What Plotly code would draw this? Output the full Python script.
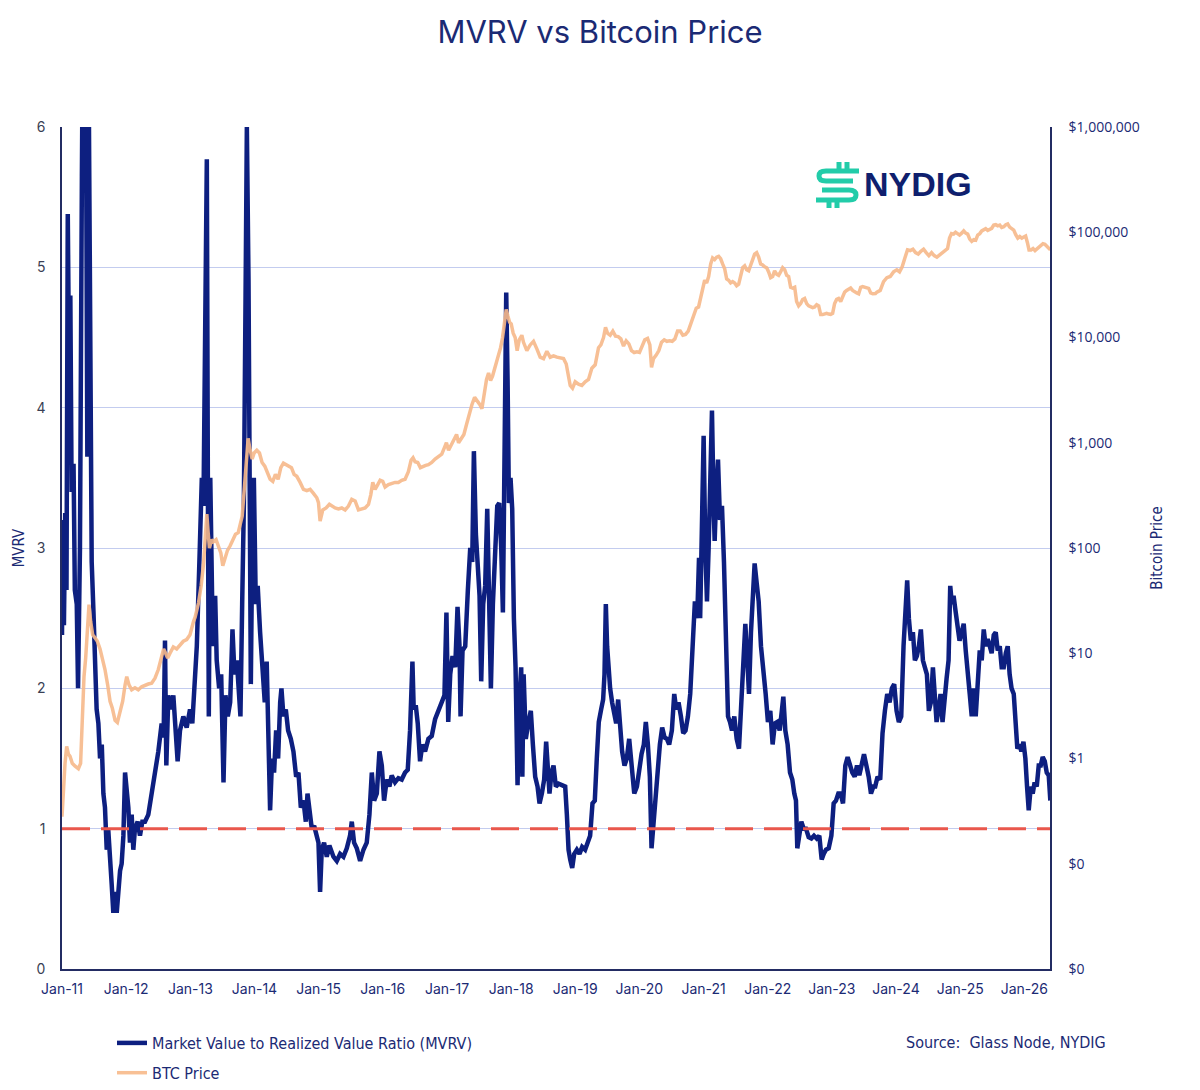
import plotly.graph_objects as go
from datetime import datetime, timedelta

# ---------------- data ----------------
mvrv_year = [
    2011.00, 2011.01, 2011.03, 2011.05, 2011.07, 2011.09, 2011.11, 2011.13, 2011.15, 2011.18,
    2011.20, 2011.23, 2011.25, 2011.28, 2011.31, 2011.33, 2011.35, 2011.37, 2011.395, 2011.415,
    2011.44, 2011.463, 2011.49, 2011.515, 2011.54, 2011.567, 2011.593, 2011.62, 2011.645, 2011.67,
    2011.697, 2011.72, 2011.75, 2011.775, 2011.80, 2011.827, 2011.853, 2011.88, 2011.905, 2011.93,
    2011.957, 2011.983,
    2012.01, 2012.035, 2012.06, 2012.087, 2012.112, 2012.138, 2012.18, 2012.216, 2012.253, 2012.294,
    2012.346, 2012.398, 2012.45, 2012.502, 2012.554, 2012.585, 2012.606, 2012.627, 2012.658, 2012.694,
    2012.736, 2012.772, 2012.803, 2012.84, 2012.892, 2012.944, 2012.996,
    2013.03, 2013.06, 2013.10, 2013.14, 2013.178, 2013.204, 2013.23, 2013.256, 2013.272, 2013.287,
    2013.31, 2013.33, 2013.35, 2013.386, 2013.41, 2013.448, 2013.48, 2013.516, 2013.547, 2013.583,
    2013.62, 2013.656, 2013.687, 2013.724, 2013.76, 2013.78, 2013.807, 2013.833, 2013.86, 2013.88,
    2013.906, 2013.926, 2013.942, 2013.963, 2013.989,
    2014.02, 2014.05, 2014.087, 2014.124, 2014.16, 2014.19, 2014.222, 2014.243, 2014.274, 2014.305,
    2014.337, 2014.368, 2014.40, 2014.42, 2014.451, 2014.488, 2014.524, 2014.566, 2014.607, 2014.649,
    2014.685, 2014.722, 2014.763, 2014.80, 2014.826, 2014.857, 2014.893, 2014.93, 2014.971, 2014.997,
    2015.023, 2015.049, 2015.085, 2015.127, 2015.168, 2015.231, 2015.283, 2015.335, 2015.387, 2015.439,
    2015.49, 2015.517, 2015.553, 2015.595, 2015.647, 2015.699, 2015.75, 2015.792, 2015.829, 2015.865,
    2015.907, 2015.948, 2015.985,
    2016.021, 2016.063, 2016.104, 2016.14, 2016.192, 2016.244, 2016.296, 2016.348, 2016.39, 2016.426,
    2016.463, 2016.483, 2016.515, 2016.546, 2016.582, 2016.618, 2016.66, 2016.712, 2016.764, 2016.816,
    2016.868, 2016.92, 2016.962, 2016.993,
    2017.019, 2017.05, 2017.086, 2017.128, 2017.164, 2017.195, 2017.211, 2017.242, 2017.284, 2017.325,
    2017.362, 2017.393, 2017.419, 2017.45, 2017.481, 2017.507, 2017.533, 2017.564, 2017.595, 2017.627,
    2017.653, 2017.684, 2017.715, 2017.746, 2017.783, 2017.814, 2017.845, 2017.871, 2017.897, 2017.923,
    2017.944, 2017.965, 2017.99,
    2018.017, 2018.043, 2018.069, 2018.10, 2018.126, 2018.157, 2018.175, 2018.195, 2018.229, 2018.266,
    2018.307, 2018.339, 2018.375, 2018.412, 2018.443, 2018.479, 2018.515, 2018.546, 2018.572, 2018.598,
    2018.63, 2018.661, 2018.697, 2018.739, 2018.791, 2018.843, 2018.869, 2018.895, 2018.921, 2018.952,
    2018.983,
    2019.025, 2019.066, 2019.108, 2019.154, 2019.196, 2019.232, 2019.269, 2019.305, 2019.336, 2019.367,
    2019.404, 2019.435, 2019.456, 2019.477, 2019.497, 2019.518, 2019.544, 2019.575, 2019.607, 2019.638,
    2019.669, 2019.70, 2019.731, 2019.768, 2019.804, 2019.841, 2019.878, 2019.92, 2019.961, 2019.997,
    2020.034, 2020.07, 2020.101, 2020.133, 2020.164, 2020.19, 2020.216, 2020.247, 2020.283, 2020.32,
    2020.356, 2020.393, 2020.429, 2020.465, 2020.507, 2020.544, 2020.575, 2020.611, 2020.648, 2020.684,
    2020.72, 2020.757, 2020.793, 2020.83, 2020.866, 2020.902, 2020.93, 2020.948, 2020.974,
    2021.0, 2021.026, 2021.052, 2021.078, 2021.099, 2021.13, 2021.156, 2021.172, 2021.198, 2021.224,
    2021.255, 2021.286, 2021.317, 2021.348, 2021.38, 2021.411, 2021.442, 2021.478, 2021.515, 2021.551,
    2021.582, 2021.613, 2021.65, 2021.681, 2021.707, 2021.738, 2021.764, 2021.795, 2021.827, 2021.858,
    2021.894, 2021.931, 2021.967,
    2022.003, 2022.04, 2022.076, 2022.112, 2022.149, 2022.186, 2022.222, 2022.243, 2022.274, 2022.31,
    2022.347, 2022.383, 2022.414, 2022.44, 2022.461, 2022.492, 2022.524, 2022.56, 2022.596, 2022.638,
    2022.68, 2022.721, 2022.763, 2022.804, 2022.841, 2022.872, 2022.908, 2022.95, 2022.992,
    2023.028, 2023.064, 2023.101, 2023.137, 2023.174, 2023.21, 2023.246, 2023.283, 2023.319, 2023.356,
    2023.392, 2023.428, 2023.465, 2023.501, 2023.538, 2023.574, 2023.61, 2023.647, 2023.676, 2023.712,
    2023.754, 2023.79, 2023.827, 2023.863, 2023.90, 2023.936, 2023.972,
    2024.009, 2024.045, 2024.082, 2024.118, 2024.149, 2024.175, 2024.201, 2024.232, 2024.264, 2024.295,
    2024.326, 2024.357, 2024.388, 2024.42, 2024.451, 2024.482, 2024.513, 2024.544, 2024.576, 2024.607,
    2024.633, 2024.664, 2024.695, 2024.726, 2024.758, 2024.789, 2024.82, 2024.846, 2024.872, 2024.898,
    2024.929, 2024.96, 2024.991,
    2025.022, 2025.054, 2025.085, 2025.116, 2025.148, 2025.179, 2025.21, 2025.241, 2025.272, 2025.304,
    2025.335, 2025.366, 2025.397, 2025.428, 2025.46, 2025.49, 2025.522, 2025.553, 2025.584, 2025.616,
    2025.646, 2025.678, 2025.71, 2025.74, 2025.77, 2025.80, 2025.834, 2025.865, 2025.89, 2025.922,
    2025.953, 2025.985,
    2026.016, 2026.042, 2026.068, 2026.10, 2026.13, 2026.16, 2026.193, 2026.224, 2026.255, 2026.286,
    2026.318, 2026.349, 2026.38, 2026.405,
]
mvrv_value = [
    2.38, 3.2, 2.45, 3.25, 2.7, 5.38, 4.3, 4.8, 3.4, 3.6,
    2.7, 2.6, 2.0, 3.0, 5.65, 7.0, 6.5, 6.6, 3.65, 6.4,
    3.9, 2.9, 2.55, 2.1, 1.85, 1.75, 1.5, 1.6, 1.25, 1.15,
    0.85, 1.0, 0.7, 0.6, 0.4, 0.55, 0.4, 0.6, 0.7, 0.75,
    0.95, 1.4,
    1.25, 1.15, 0.9, 1.1, 0.85, 1.0, 1.05, 0.95, 1.05, 1.05,
    1.1, 1.25, 1.35, 1.55, 1.75, 1.65, 2.34, 1.45, 1.95, 1.85,
    1.95, 1.75, 1.48, 1.7, 1.8, 1.72, 1.85,
    1.75, 2.0, 2.3, 2.9, 3.5, 3.3, 4.5, 5.77, 3.5, 1.8,
    3.5, 2.6, 2.3, 2.66, 2.2, 2.0, 2.1, 1.33, 1.95, 1.8,
    1.9, 2.42, 2.1, 2.2, 1.9, 1.8, 2.6, 3.3, 4.8, 6.0,
    4.9, 3.5, 2.03, 3.0, 3.5,
    2.6, 2.73, 2.4, 2.15, 1.9, 2.19, 1.6, 1.13, 1.5, 1.4,
    1.7, 1.5, 1.9, 2.0, 1.8, 1.85, 1.7, 1.64, 1.55, 1.37,
    1.4, 1.15, 1.2, 1.05, 1.25, 1.1, 1.0, 1.02, 0.95, 0.9,
    0.55, 0.85, 0.9, 0.8, 0.88, 0.8, 0.77, 0.82, 0.8, 0.86,
    0.95, 1.05, 0.9, 0.86, 0.77, 0.85, 0.9, 1.1, 1.4, 1.2,
    1.25, 1.55, 1.45,
    1.2, 1.35, 1.3, 1.38, 1.33, 1.36, 1.35, 1.4, 1.42, 1.7,
    2.19, 1.85, 1.88, 1.75, 1.48, 1.6, 1.55, 1.64, 1.66, 1.78,
    1.84, 1.9, 1.95, 2.54,
    1.76, 2.1, 2.23, 2.15, 2.58, 2.3, 1.8, 2.27, 2.3, 2.7,
    3.0, 2.9, 3.69, 3.1, 2.85, 2.66, 2.05, 2.6, 2.73, 3.28,
    2.7, 2.0, 2.6, 2.93, 3.3, 3.32, 3.0, 2.54, 3.6, 4.82,
    4.2, 3.32, 3.5,
    3.28, 2.5, 2.15, 1.31, 1.9, 2.15, 1.37, 2.1, 1.64, 1.75,
    1.84, 1.6, 1.37, 1.3, 1.18, 1.25, 1.35, 1.62, 1.4, 1.25,
    1.4, 1.45, 1.3, 1.32, 1.31, 1.3, 1.1, 0.85, 0.78, 0.72,
    0.82,
    0.85, 0.82, 0.87, 0.85, 0.92, 0.95, 1.18, 1.2, 1.5, 1.76,
    1.85, 1.92, 2.1, 2.6, 2.3, 2.15, 2.0, 1.9, 1.84, 1.75,
    1.92, 1.72, 1.55, 1.45, 1.5, 1.64, 1.45, 1.25, 1.3, 1.45,
    1.53, 1.6, 1.76, 1.6, 1.37, 0.86, 1.0, 1.18, 1.45, 1.6,
    1.72, 1.65, 1.64, 1.6, 1.7, 1.96, 1.85, 1.9, 1.8, 1.68,
    1.7, 1.8, 1.96, 2.3, 2.62, 2.5, 2.93, 2.5, 3.3,
    3.8, 3.0, 2.62, 3.0, 3.55, 3.98, 3.3, 3.05, 3.4, 3.63,
    3.2, 3.3, 2.9, 2.3, 1.8, 1.76, 1.7, 1.8, 1.64, 1.57,
    1.9, 2.23, 2.46, 2.2, 1.96, 2.4, 2.62, 2.89, 2.75, 2.62,
    2.3, 2.15, 1.96,
    1.76, 1.84, 1.6, 1.75, 1.76, 1.7, 1.85, 1.94, 1.7, 1.6,
    1.4, 1.35, 1.25, 1.2, 0.86, 0.95, 1.05, 1.0, 1.0, 0.94,
    0.93, 0.95, 0.93, 0.95, 0.78, 0.82, 0.85, 0.86, 0.95,
    1.18, 1.2, 1.25, 1.25, 1.18, 1.45, 1.51, 1.45, 1.4, 1.37,
    1.45, 1.38, 1.45, 1.53, 1.45, 1.37, 1.25, 1.3, 1.3, 1.37,
    1.35, 1.68, 1.84, 1.96, 1.9, 2.0, 2.03,
    1.84, 1.76, 1.8, 2.3, 2.5, 2.77, 2.5, 2.34, 2.4, 2.2,
    2.23, 2.3, 2.42, 2.2, 2.15, 2.1, 1.84, 1.9, 2.15, 1.85,
    1.76, 1.85, 1.96, 1.76, 1.95, 2.07, 2.2, 2.73, 2.6, 2.66,
    2.55, 2.45, 2.34,
    2.4, 2.46, 2.27, 2.15, 1.96, 1.8, 2.0, 1.8, 2.0, 2.27,
    2.2, 2.42, 2.3, 2.35, 2.3, 2.25, 2.38, 2.4, 2.27, 2.3,
    2.15, 2.15, 2.25, 2.3, 2.1, 2.0, 1.96, 1.7, 1.57, 1.6,
    1.55, 1.62,
    1.5, 1.3, 1.13, 1.3, 1.25, 1.33, 1.3, 1.45, 1.45, 1.51,
    1.48, 1.4, 1.38, 1.2,
]

price_year = [
    2011.0, 2011.02, 2011.047, 2011.073, 2011.10, 2011.125, 2011.16, 2011.20, 2011.255, 2011.29,
    2011.317, 2011.343, 2011.369, 2011.395, 2011.421, 2011.447, 2011.478, 2011.515, 2011.551, 2011.593,
    2011.63, 2011.67, 2011.712, 2011.749, 2011.785, 2011.827, 2011.863, 2011.905, 2011.946, 2011.983,
    2012.01, 2012.045, 2012.087, 2012.138, 2012.19, 2012.242, 2012.294, 2012.346, 2012.398, 2012.45,
    2012.502, 2012.544, 2012.585, 2012.616, 2012.648, 2012.684, 2012.736, 2012.788, 2012.84, 2012.892,
    2012.944, 2012.996,
    2013.048, 2013.074, 2013.126, 2013.168, 2013.204, 2013.235, 2013.256, 2013.277, 2013.297, 2013.33,
    2013.36, 2013.40, 2013.438, 2013.474, 2013.505, 2013.537, 2013.578, 2013.62, 2013.661, 2013.703,
    2013.745, 2013.776, 2013.807, 2013.838, 2013.869, 2013.90, 2013.932, 2013.963, 2013.994,
    2014.036, 2014.077, 2014.118, 2014.16, 2014.202, 2014.243, 2014.285, 2014.326, 2014.368, 2014.41,
    2014.451, 2014.493, 2014.534, 2014.576, 2014.617, 2014.659, 2014.711, 2014.763, 2014.815, 2014.867,
    2014.919, 2014.971, 2014.997,
    2015.023, 2015.065, 2015.117, 2015.168, 2015.205, 2015.257, 2015.309, 2015.361, 2015.413, 2015.465,
    2015.517, 2015.569, 2015.621, 2015.673, 2015.725, 2015.777, 2015.813, 2015.844, 2015.88, 2015.922,
    2015.959,
    2016.0, 2016.037, 2016.089, 2016.14, 2016.192, 2016.244, 2016.296, 2016.348, 2016.40, 2016.442,
    2016.473, 2016.504, 2016.546, 2016.587, 2016.63, 2016.67, 2016.712, 2016.764, 2016.816, 2016.868,
    2016.92, 2016.962, 2016.993,
    2017.024, 2017.065, 2017.107, 2017.149, 2017.18, 2017.221, 2017.263, 2017.305, 2017.346, 2017.388,
    2017.43, 2017.471, 2017.513, 2017.544, 2017.58, 2017.616, 2017.648, 2017.679, 2017.71, 2017.741,
    2017.773, 2017.804, 2017.835, 2017.866, 2017.897, 2017.923, 2017.949, 2017.975,
    2018.001, 2018.032, 2018.063, 2018.094, 2018.126, 2018.167, 2018.193, 2018.245, 2018.297, 2018.349,
    2018.401, 2018.453, 2018.505, 2018.557, 2018.609, 2018.661, 2018.713, 2018.765, 2018.817, 2018.859,
    2018.89, 2018.921, 2018.957, 2018.999,
    2019.051, 2019.103, 2019.155, 2019.207, 2019.259, 2019.311, 2019.363, 2019.40, 2019.441, 2019.472,
    2019.503, 2019.545, 2019.586, 2019.628, 2019.67, 2019.711, 2019.753, 2019.794, 2019.836, 2019.877,
    2019.919, 2019.961,
    2020.002, 2020.044, 2020.085, 2020.128, 2020.164, 2020.19, 2020.221, 2020.263, 2020.304, 2020.346,
    2020.388, 2020.429, 2020.471, 2020.512, 2020.554, 2020.596, 2020.637, 2020.678, 2020.72, 2020.762,
    2020.804, 2020.845, 2020.887, 2020.923, 2020.948, 2020.984,
    2021.016, 2021.047, 2021.078, 2021.11, 2021.14, 2021.172, 2021.203, 2021.234, 2021.265, 2021.296,
    2021.328, 2021.359, 2021.39, 2021.421, 2021.452, 2021.484, 2021.515, 2021.546, 2021.577, 2021.608,
    2021.64, 2021.67, 2021.702, 2021.733, 2021.764, 2021.795, 2021.827, 2021.858, 2021.889, 2021.92,
    2021.951, 2021.983,
    2022.014, 2022.045, 2022.076, 2022.107, 2022.139, 2022.17, 2022.20, 2022.232, 2022.264, 2022.295,
    2022.326, 2022.357, 2022.388, 2022.42, 2022.45, 2022.482, 2022.513, 2022.544, 2022.575, 2022.607,
    2022.638, 2022.67, 2022.70, 2022.731, 2022.763, 2022.794, 2022.825, 2022.855, 2022.887, 2022.918,
    2022.95, 2022.98,
    2023.012, 2023.043, 2023.075, 2023.106, 2023.138, 2023.168, 2023.20, 2023.23, 2023.262, 2023.293,
    2023.324, 2023.356, 2023.388, 2023.418, 2023.45, 2023.48, 2023.51, 2023.543, 2023.574, 2023.605,
    2023.637, 2023.68, 2023.702, 2023.754, 2023.806, 2023.858, 2023.91, 2023.962,
    2024.014, 2024.056, 2024.097, 2024.139, 2024.18, 2024.222, 2024.264, 2024.305, 2024.347, 2024.388,
    2024.43, 2024.471, 2024.513, 2024.555, 2024.596, 2024.638, 2024.68, 2024.721, 2024.763, 2024.804,
    2024.835, 2024.866, 2024.898, 2024.929, 2024.96, 2024.991,
    2025.022, 2025.054, 2025.085, 2025.116, 2025.148, 2025.179, 2025.21, 2025.241, 2025.272, 2025.304,
    2025.335, 2025.366, 2025.397, 2025.428, 2025.46, 2025.49, 2025.522, 2025.553, 2025.584, 2025.616,
    2025.646, 2025.678, 2025.71, 2025.74, 2025.77, 2025.80, 2025.834, 2025.865, 2025.897, 2025.928,
    2025.96, 2025.99,
    2026.02, 2026.047, 2026.073, 2026.104, 2026.135, 2026.166, 2026.20, 2026.23, 2026.26, 2026.29,
    2026.32, 2026.35, 2026.38, 2026.405,
]
price_value = [
    0.28, 0.5, 0.9, 1.3, 1.1, 1.05, 0.9, 0.85, 0.8, 0.9,
    2.5, 6, 9, 18, 29, 20, 15, 14, 13, 11,
    9, 7, 5, 3.5, 3, 2.3, 2.2, 2.9, 3.5, 5,
    6, 5, 4.5, 4.7, 4.5, 4.8, 5, 5.1, 5.2, 5.8,
    7, 9, 11, 10, 9, 10, 11.5, 11, 12, 13,
    13.5, 15,
    20, 22, 30, 44, 70, 130, 210, 140, 100, 120,
    115, 120, 105, 90, 68, 80, 95, 105, 120, 135,
    140, 170, 200, 350, 700, 1100, 850, 700, 800,
    850, 800, 650, 600, 520, 450, 430, 500, 450, 580,
    640, 620, 600, 580, 500, 480, 420, 360, 350, 360,
    330, 300, 270,
    180, 230, 240, 260, 250, 240, 235, 240, 230, 250,
    290, 280, 230, 235, 240, 260, 320, 420, 360, 400,
    440,
    430, 380, 400, 410, 420, 420, 440, 450, 530, 680,
    720, 660, 650, 580, 600, 610, 620, 650, 700, 740,
    780, 900, 1000,
    850, 950, 1050, 1200, 1000, 1100, 1200, 1500, 1900, 2300,
    2700, 2500, 2300, 2100, 2800, 4000, 4600, 3900, 4300, 5000,
    6000, 7000, 8000, 10000, 14000, 18500, 16000, 14000,
    13500, 11000, 10000, 7500, 9500, 10500, 9000, 7500, 8500, 9200,
    7800, 6500, 6300, 7400, 6500, 6700, 6500, 6400, 6300, 5600,
    4200, 3500, 3300, 3800,
    3600, 3500, 3800, 4000, 5100, 5500, 8000, 8500, 10000, 12500,
    11000, 10500, 11500, 10300, 10200, 9700, 8300, 9300, 8700, 7500,
    7200, 7300,
    7200, 8500, 9500, 9800, 8500, 5200, 6300, 6800, 7500, 9000,
    9500, 9200, 9300, 9200, 9700, 11500, 11500, 10500, 10700, 11500,
    13500, 16500, 19000, 19500, 23000, 29000,
    35000, 33000, 38000, 50000, 57000, 55000, 58000, 59000, 56000, 50000,
    45000, 36000, 35000, 33000, 34000, 33000, 31000, 32000, 40000, 46000,
    48000, 44000, 43000, 48000, 55000, 62000, 64000, 58000, 50000, 49000,
    47000, 46000,
    42000, 37000, 38000, 43000, 40000, 39000, 42000, 46000, 44000, 39000,
    38000, 30000, 29500, 30000, 22000, 20000, 21000, 23000, 23500, 21000,
    20000, 19500, 19200, 19500, 20500, 20000, 16500, 16500, 16800, 17000,
    16700, 16600,
    17000, 21000, 23000, 23500, 22000, 24000, 27000, 28000, 28500, 29500,
    28000, 27000, 26500, 26000, 30000, 30500, 30000, 29500, 29300, 26500,
    26000, 26200, 27000, 28000, 34000, 37000, 38000, 42000,
    44000, 42000, 47000, 57000, 68000, 67000, 69000, 64000, 62000, 66000,
    69000, 64000, 60000, 64000, 60000, 58000, 61000, 63000, 67000, 70000,
    88000, 97000, 96000, 100000, 97000, 94000,
    98000, 103000, 98000, 96000, 86000, 82000, 85000, 84000, 94000, 97000,
    103000, 105000, 108000, 104000, 107000, 109000, 117000, 118000, 115000, 117000,
    111000, 113000, 118000, 120000, 112000, 108000, 105000, 95000, 88000, 91000,
    88000, 90000,
    92000, 80000, 68000, 68000, 70000, 67000, 70000, 72000, 76000, 78000,
    77000, 74000, 70000, 68000,
]

mvrv_ticks = [0, 1, 2, 3, 4, 5, 6]
price_ticks = [0.01, 0.1, 1, 10, 100, 1000, 10000, 100000, 1000000]
price_tick_labels = ["$0", "$0", "$1", "$10", "$100", "$1,000", "$10,000",
                     "$100,000", "$1,000,000"]
year_ticks = list(range(2011, 2027))
mvrv_threshold = 1

assert len(mvrv_year) == len(mvrv_value), (len(mvrv_year), len(mvrv_value))
assert len(price_year) == len(price_value), (len(price_year), len(price_value))


def to_date(t):
    y = int(t)
    return datetime(y, 1, 1) + timedelta(days=(t - y) * 365.25)


mvrv_dates = [to_date(t) for t in mvrv_year]
price_dates = [to_date(t) for t in price_year]
tick_dates = [datetime(y, 1, 1) for y in year_ticks]

# ---------------- styling ----------------
NAVY = "#0d1f80"
ORANGE = "#f7b98a"
TEXT_NAVY = "#1b2a74"
GRID = "#c3ccef"
AXIS = "#232c63"
RED = "#e9574c"
TEAL = "#22cca9"
NARROW = "Liberation Sans Narrow, Arial Narrow, DejaVu Sans Condensed, sans-serif"

W, H = 1200, 1090
L, R, T, B = 62, 150, 127, 121
PW, PH = W - L - R, H - T - B

fig = go.Figure()
fig.add_trace(go.Scatter(
    x=mvrv_dates, y=mvrv_value, mode="lines",
    name="Market Value to Realized Value Ratio (MVRV)",
    line=dict(color=NAVY, width=4.5), legendgroup="a", yaxis="y",
))
fig.add_trace(go.Scatter(
    x=price_dates, y=price_value, mode="lines", name="BTC Price",
    line=dict(color=ORANGE, width=3.5), opacity=0.9, legendgroup="b", yaxis="y2",
))

fig.update_layout(
    width=W, height=H,
    margin=dict(l=L, r=R, t=T, b=B, autoexpand=False),
    paper_bgcolor="white", plot_bgcolor="white",
    title=dict(text="MVRV vs Bitcoin Price", x=0.5, xanchor="center",
               y=1 - 32 / H, yanchor="middle",
               font=dict(family="Inter, Lato, sans-serif", size=31, color=TEXT_NAVY)),
    xaxis=dict(
        type="date", range=[datetime(2011, 1, 1), datetime(2026, 5, 27)],
        tickvals=tick_dates, tickformat="%b-%y",
        tickfont=dict(family="Inter, Lato, sans-serif", size=14, color=TEXT_NAVY),
        showgrid=False, zeroline=False, showline=True, linecolor=AXIS, linewidth=1.5,
        ticks="", ticklabelstandoff=6,
    ),
    yaxis=dict(
        range=[0, 6], tickvals=mvrv_ticks,
        tickfont=dict(family="Inter, Lato, sans-serif", size=14, color="#3a3f55"),
        showgrid=True, gridcolor=GRID, gridwidth=1, zeroline=False,
        showline=True, linecolor=AXIS, linewidth=1.5, ticks="", ticklabelstandoff=12,
        title=dict(text="MVRV", standoff=8,
                   font=dict(family=NARROW, size=15, color=TEXT_NAVY)),
    ),
    yaxis2=dict(
        type="log", range=[-2, 6], overlaying="y", side="right",
        tickvals=price_ticks, ticktext=price_tick_labels,
        tickfont=dict(family="Open Sans, sans-serif", size=14, color=TEXT_NAVY),
        showgrid=False, zeroline=False, showline=True, linecolor=AXIS, linewidth=1.5,
        ticks="", ticklabelstandoff=14,
        title=dict(text="Bitcoin Price", standoff=13,
                   font=dict(family=NARROW, size=15, color=TEXT_NAVY)),
    ),
    legend=dict(
        x=(112 - L) / PW, xanchor="left",
        yref="container", y=1 - 1026 / H, yanchor="top",
        orientation="v", traceorder="grouped", tracegroupgap=6,
        font=dict(family=NARROW, size=16, color=TEXT_NAVY),
        bgcolor="rgba(0,0,0,0)",
    ),
    showlegend=True,
)

# red dashed MVRV = 1 reference line
fig.add_shape(type="line", xref="paper", x0=0, x1=1, yref="y",
              y0=mvrv_threshold, y1=mvrv_threshold, layer="above",
              line=dict(color=RED, width=3, dash="28px,11px"))


# NYDIG logo (decoration) drawn in pixel space -> paper coords
def P(x, y):
    return f"{(x - L) / PW:.5f},{(T + PH - y) / PH:.5f}"


logo_paths = [
    f"M{P(859,171)} L{P(826,171)} Q{P(819,171)} {P(819,176)} Q{P(819,181)} {P(826,181)} L{P(853,181)}",
    f"M{P(816,200)} L{P(849,200)} Q{P(856,200)} {P(856,195)} Q{P(856,190)} {P(849,190)} L{P(822,190)}",
    f"M{P(839,162)} L{P(839,171)}", f"M{P(847,162)} L{P(847,171)}",
    f"M{P(829,200)} L{P(829,208)}", f"M{P(837,200)} L{P(837,208)}",
]
for pth in logo_paths:
    fig.add_shape(type="path", path=pth, xref="paper", yref="paper",
                  line=dict(color=TEAL, width=5), layer="above")

fig.add_annotation(text="<b>NYDIG</b>", xref="paper", yref="paper",
                   x=(862 - L) / PW, y=(T + PH - 184) / PH, xanchor="left", yanchor="middle",
                   showarrow=False,
                   font=dict(family="Liberation Sans, Arial, sans-serif", size=34, color="#0f1f6e"))

fig.add_annotation(text="Source:  Glass Node, NYDIG", xref="paper", yref="paper",
                   x=(1108 - L) / PW, y=-(1042 - (T + PH)) / PH, xanchor="right", yanchor="middle",
                   showarrow=False,
                   font=dict(family=NARROW, size=16, color=TEXT_NAVY))

fig.write_html("out.html")
